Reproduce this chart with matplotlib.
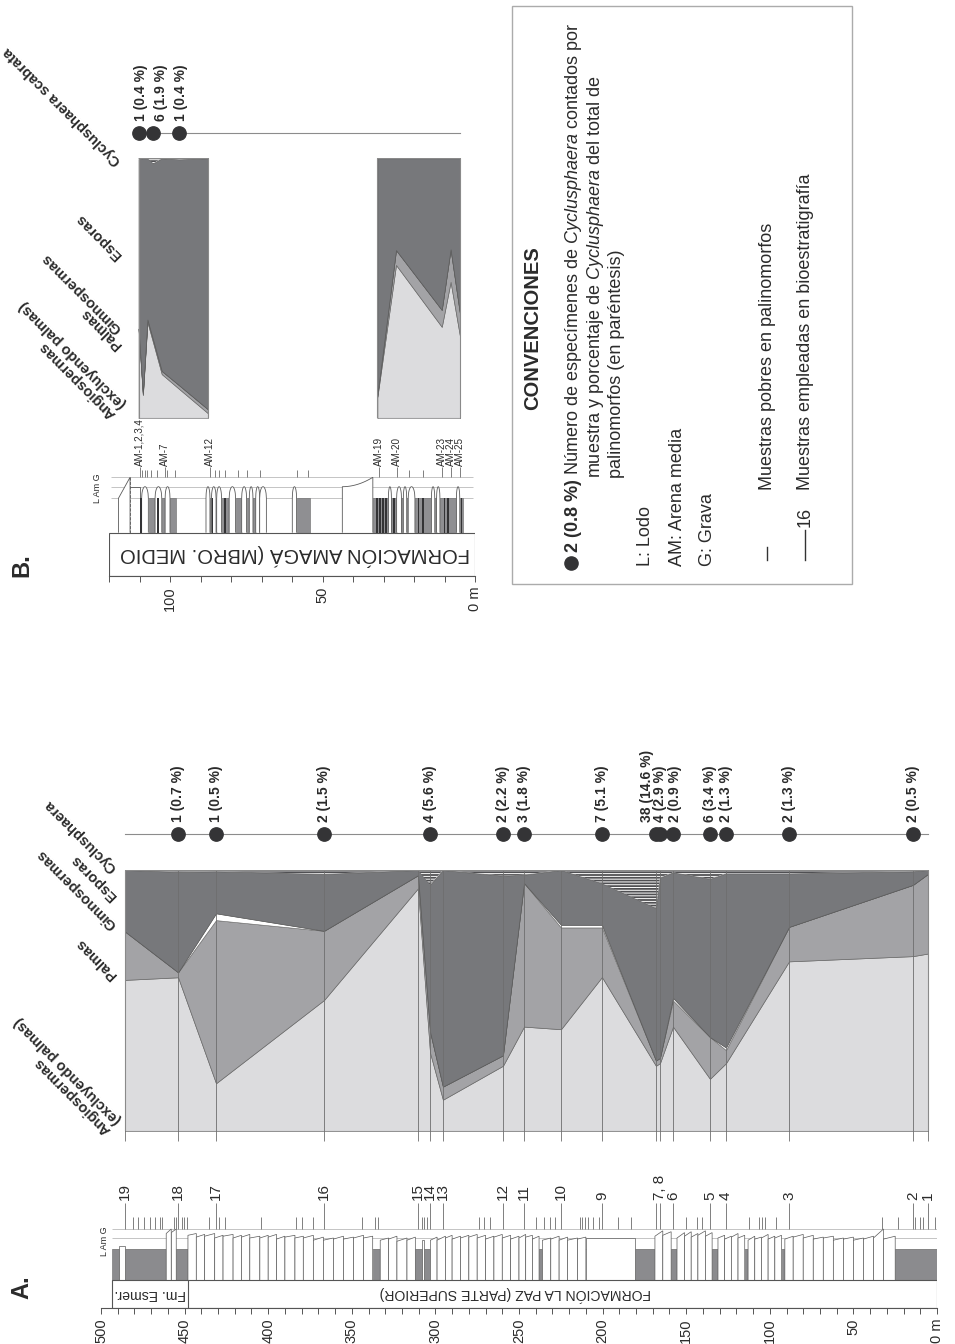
import numpy as np
import matplotlib
matplotlib.use("Agg")
import matplotlib.pyplot as plt
from matplotlib import font_manager
from matplotlib.patches import Rectangle, Polygon
from matplotlib.lines import Line2D

W, H = 955, 1344


def font_available(name):
    try:
        font_manager.findfont(font_manager.FontProperties(family=name),
                              fallback_to_default=False)
        return True
    except ValueError:
        return False


NARROW = 'Liberation Sans Narrow' if font_available('Liberation Sans Narrow') else 'Liberation Sans'
NARROW_SCALE = 1.0 if NARROW == 'Liberation Sans Narrow' else 0.84

plt.rcParams['font.family'] = ['Liberation Sans', 'DejaVu Sans']
plt.rcParams['mathtext.fontset'] = 'custom'
plt.rcParams['mathtext.rm'] = 'Liberation Sans'
plt.rcParams['mathtext.it'] = 'Liberation Sans:italic'
plt.rcParams['mathtext.bf'] = 'Liberation Sans:bold'
plt.rcParams['hatch.linewidth'] = 0.7

TXT = '#2b2b2b'

# ------------------------------------------------------------------
# A. Formación La Paz (parte superior) - palinología por muestra
# ------------------------------------------------------------------
sample_labels_A = ['19', '18', '17', '16', '15', '14', '13', '12', '11', '10', '9',
                   '', '7, 8', '6', '5', '4', '3', '2', '1']
sample_height_A = [485.6, 453.9, 431.2, 366.6, 310.4, 303.2, 295.5, 259.6, 247.0,
                   224.9, 200.4, 168.1, 165.7, 157.9, 135.8, 126.2, 88.5, 14.4, 5.4]
angio_A = [57.9, 58.9, 18.3, 50.2, 93.0, 30.0, 12.0, 25.0, 40.0, 39.0, 59.0,
           25.0, 26.0, 40.0, 20.0, 26.0, 65.0, 67.0, 68.0]
palmas_A = [18.5, 1.9, 62.5, 26.5, 5.0, 8.0, 5.0, 4.0, 55.0, 39.0, 19.0,
            2.0, 2.0, 10.0, 16.0, 5.0, 13.2, 27.3, 30.5]
gimno_A = [0, 0, 2.6, 0, 0, 0, 0, 0, 0, 1.0, 1.0, 0, 0, 1.0, 0, 1.0, 0, 0, 0]
esporas_A = [23.6, 38.5, 16.1, 21.8, 2.0, 56.4, 83.0, 68.8, 3.2, 21.0, 15.9,
             58.4, 69.1, 48.1, 60.6, 66.7, 20.5, 5.2, 1.5]
cyclus_A = [0, 0.7, 0.5, 1.5, 0, 5.6, 0, 2.2, 1.8, 0, 5.1,
            14.6, 2.9, 0.9, 3.4, 1.3, 1.3, 0.5, 0]
cyclus_count_A = [0, 1, 1, 2, 0, 4, 0, 2, 3, 0, 7, 38, 4, 2, 6, 2, 2, 2, 0]

poor_samples_A = [481.0, 477.8, 474.5, 470.6, 468.0, 464.8, 463.8, 456.6, 455.0,
                  451.7, 450.1, 448.4, 435.4, 429.5, 425.6, 404.4, 383.2, 380.0,
                  373.5, 344.1, 336.0, 334.4, 308.3, 306.6, 305.0, 274.1, 270.8,
                  267.6, 239.8, 235.0, 231.7, 228.5, 213.8, 212.2, 210.5, 208.9,
                  205.6, 202.4, 191.0, 182.8, 150.2, 143.7, 140.4, 112.7, 106.2,
                  104.6, 102.9, 96.5, 32.9, 23.1, 13.3, 10.0, 8.4, 1.0]

# lodolitas (base, techo) en m
mud_A = [(489, 493.5), (461, 485.5), (448, 455), (333, 337.5), (308, 312),
         (303, 307), (236, 238), (168.7, 180.6), (155.5, 159), (131, 134.5),
         (113, 115), (91, 93), (0, 25)]
# areniscas (base, techo, grano en la base, grano en el techo); 0 = L, 1 = Am, 2 = G
sand_A = [
    (485.5, 489, 0.3, 0.3),
    (455, 458, 2.2, 1.6), (458, 461, 2.1, 1.5),
    (443, 448, 1.5, 1.3), (438, 443, 1.4, 1.1), (432, 438, 1.5, 1.2), (427, 432, 1.3, 1.0),
    (421, 427, 1.4, 1.2), (416, 421, 1.3, 1.0), (411, 416, 1.4, 1.1), (405, 411, 1.2, 1.0),
    (400, 405, 1.3, 1.0), (395, 400, 1.4, 1.1), (390, 395, 1.2, 0.9), (384, 390, 1.3, 1.1),
    (379, 384, 1.2, 1.0), (373, 379, 1.3, 1.0), (367, 373, 1.1, 0.8), (361, 367, 1.0, 0.8),
    (355, 361, 1.2, 0.9), (349, 355, 1.1, 0.9), (343, 349, 1.3, 1.0), (337.5, 343, 1.2, 1.0),
    (328, 333, 1.0, 0.8), (323, 328, 1.2, 0.9), (317, 323, 1.0, 0.7), (312, 317, 1.1, 0.8),
    (307, 308, 0.8, 0.8),
    (299, 303, 1.1, 0.8), (294, 299, 1.2, 0.8), (290, 294, 1.3, 1.0), (285, 290, 1.2, 0.9),
    (280, 285, 1.3, 1.0), (275, 280, 1.4, 1.1), (270, 275, 1.3, 1.0), (265, 270, 1.2, 0.9),
    (260, 265, 1.4, 1.1), (255, 260, 1.3, 1.0), (250, 255, 1.2, 0.9), (246, 250, 1.4, 1.0),
    (242, 246, 1.3, 1.1), (238, 242, 1.2, 0.9),
    (231, 236, 1.0, 0.8), (226, 231, 1.2, 0.9), (221, 226, 1.1, 0.8), (215, 221, 1.0, 0.8),
    (210, 215, 1.1, 0.9), (180.6, 210, 1.0, 1.0),
    (164, 168.7, 1.8, 1.2), (159, 164, 1.7, 1.3),
    (151, 155.5, 1.6, 1.0), (147, 151, 1.7, 1.2), (143, 147, 1.5, 1.1),
    (138.5, 143, 1.8, 1.3), (134.5, 138.5, 1.6, 1.2),
    (127, 131, 1.3, 1.0), (123, 127, 1.2, 0.9), (119, 123, 1.5, 1.1), (115, 119, 1.3, 1.0),
    (109, 113, 1.2, 0.8), (105, 109, 1.1, 0.9), (101, 105, 1.4, 1.0), (97, 101, 1.2, 0.9),
    (93, 97, 1.3, 1.0),
    (86, 91, 1.2, 0.9), (80, 86, 1.4, 1.1), (74, 80, 1.3, 1.0), (68, 74, 1.1, 0.9),
    (62, 68, 1.2, 1.0), (56, 62, 1.0, 0.8), (50, 56, 1.1, 0.9), (44, 50, 1.0, 0.8),
    (38, 44, 1.2, 0.9), (32, 38, 2.0, 1.0), (25, 32, 1.2, 0.9),
]
depth_ticks_A = [0, 50, 100, 150, 200, 250, 300, 350, 400, 450, 500]
depth_labels_A = ['0 m', '50', '100', '150', '200', '250', '300', '350', '400', '450', '500']

# ------------------------------------------------------------------
# B. Formación Amagá (miembro medio)
# ------------------------------------------------------------------
height_B1 = [110.3, 108.9, 107.4, 105.5, 102.7, 97.0, 87.6]
angio_B1 = [34.0, 9.0, 37.0, 29.0, 17.0, 11.3, 2.0]
palmas_B1 = [0.5, 0.5, 1.0, 1.0, 1.2, 1.4, 1.5]
esporas_B1 = [65.1, 90.5, 62.0, 68.1, 81.8, 86.9, 96.5]
cyclus_B1 = [0.4, 0, 0, 1.9, 0, 0.4, 0]
cyclus_count_B1 = [1, 0, 0, 6, 0, 1, 0]

height_B2 = [32.0, 25.9, 10.9, 8.0, 4.9]
angio_B2 = [8.3, 59.0, 35.2, 52.5, 31.4]
palmas_B2 = [0.7, 5.7, 6.5, 12.5, 8.6]
esporas_B2 = [91.0, 35.3, 58.3, 35.0, 60.0]
cyclus_B2 = [0, 0, 0, 0, 0]

sample_labels_B = ['AM-1,2,3,4', 'AM-7', 'AM-12', 'AM-19', 'AM-20', 'AM-23', 'AM-24', 'AM-25']
sample_height_B = [110.0, 101.6, 86.9, 31.4, 25.7, 10.9, 8.0, 4.9]
poor_samples_B = [109.1, 108.2, 107.4, 106.2, 104.4, 100.9, 98.4, 85.3, 83.9, 82.0,
                  77.6, 74.9, 70.6, 58.5, 54.6, 21.5, 16.9]

mud_B = [(98.0, 100.0), (101.6, 102.7), (104.9, 106.9), (86.4, 86.9), (84.7, 84.9),
         (80.6, 83.1), (76.5, 78.5), (74.0, 74.9), (71.9, 72.8), (54.1, 58.5),
         (28.4, 33.5), (25.7, 27.4), (23.5, 24.1), (21.9, 22.4), (14.3, 19.7),
         (12.6, 13.2), (6.1, 11.5), (3.8, 5.0)]
coal_B = [109.55, 104.0, 86.0, 82.0, 32.2, 31.1, 30.2, 29.2, 26.5, 18.6, 17.0,
          10.0, 8.9, 4.4]
bump_B = [(107.1, 109.3), (102.7, 104.9), (100.0, 101.6), (86.9, 88.2), (84.9, 86.4),
          (83.1, 84.7), (78.5, 80.6), (74.9, 76.5), (72.8, 74.0), (70.6, 71.9),
          (68.4, 70.6), (58.5, 59.9), (27.4, 28.4), (24.1, 25.7), (22.4, 23.5),
          (19.7, 21.9), (13.2, 14.3), (11.5, 12.6), (5.0, 6.1)]
depth_ticks_B = [0, 10, 20, 30, 40, 50, 60, 70, 80, 90, 100, 110, 120]
depth_labels_B = ['0 m', '', '', '', '', '50', '', '', '', '', '100', '', '']

# ------------------------------------------------------------------
fig = plt.figure(figsize=(W / 100, H / 100), dpi=100)
fig.patch.set_facecolor('white')


def px_box(x0, y0, x1, y1):
    return [x0 / W, 1 - y1 / H, (x1 - x0) / W, (y1 - y0) / H]


def fx(x):
    return x / W


def fy(y):
    return 1 - y / H


FILL_STYLES = [
    dict(facecolor='#dcdcde', edgecolor='#6c6c6c', linewidth=0.5),
    dict(facecolor='#a3a3a6', edgecolor='#6c6c6c', linewidth=0.5),
    dict(facecolor='white', edgecolor='#6c6c6c', linewidth=0.4),
    dict(facecolor='#77787b', edgecolor='#5c5c5c', linewidth=0.5),
    dict(facecolor='#505053', edgecolor='white', linewidth=0, hatch='------'),
]


def stack_panel(ax, h, layers, styles):
    h = np.asarray(h, float)
    lower = np.zeros_like(h)
    for vals, st in zip(layers, styles):
        upper = lower + np.asarray(vals, float)
        ax.fill_between(h, lower, upper, zorder=1, **st)
        lower = upper
    ax.plot([h[0], h[0], h[-1], h[-1], h[0]], [0, 100, 100, 0, 0],
            color='#8a8a8a', lw=0.8, zorder=3)


def dot_row(ax, h, counts, pct, yrow, nudges, fs=10):
    h = np.asarray(h, float)
    ax.plot([h.max(), h.min()], [yrow, yrow], color='#8c8c8c', lw=0.8,
            clip_on=False, zorder=4)
    for i, (hi, n, p) in enumerate(zip(h, counts, pct)):
        if n <= 0:
            continue
        ax.plot([hi], [yrow], 'o', ms=9.6, color='#343436', clip_on=False, zorder=5)
        ax.annotate(f'{n} ({p:.1f} %)', xy=(hi, yrow),
                    xytext=(nudges.get(i, 0) * 0.72, 12 * 0.72),
                    textcoords='offset points', rotation=90, rotation_mode='anchor',
                    ha='left', va='center', fontsize=fs, fontweight='bold',
                    color=TXT, annotation_clip=False)


def headers(x, ys, texts):
    for y, t in zip(ys, texts):
        fig.text(fx(x), fy(y), t, rotation=135, rotation_mode='anchor',
                 ha='left', va='center', fontsize=10.5, fontweight='bold',
                 color=TXT, linespacing=1.0)


def grain_y(g, lv):
    return float(np.interp(g, [0, 1, 2], [lv['L'], lv['Am'], lv['G']]))


def column_axes(rect, xlim, ylim, ticks, labels):
    ax = fig.add_axes(px_box(*rect))
    ax.set_xlim(*xlim)
    ax.set_ylim(*ylim)
    ax.patch.set_alpha(0)
    for s in ('top', 'left', 'right'):
        ax.spines[s].set_visible(False)
    ax.spines['bottom'].set_color('#555555')
    ax.spines['bottom'].set_linewidth(0.8)
    ax.set_yticks([])
    ax.set_xticks(ticks)
    ax.set_xticklabels(labels, rotation=90, fontsize=10.5, color=TXT)
    ax.tick_params(axis='x', which='both', length=4.5, width=0.7, color='#555555', pad=3)
    return ax


# ---------------- A: columna ----------------
lvA = dict(base=1280, L=1249, Am=1238, G=1229)
axA = column_axes((101, 1140, 937, 1308), (500, 0), (1308, 1140), depth_ticks_A, depth_labels_A)
axA.set_xticks(np.arange(0, 501, 10), minor=True)

axA.hlines([lvA['G'], lvA['Am'], lvA['L']], 0, 493.5, color='#c4c4c4', lw=0.7, zorder=1)
for b, t in mud_A:
    axA.add_patch(Rectangle((b, lvA['L']), t - b, lvA['base'] - lvA['L'],
                            facecolor='#8b8b8e', edgecolor='#6a6a6a', lw=0.4, zorder=2))
for b, t, gb, gt in sand_A:
    pts = [(b, lvA['base']), (b, grain_y(gb, lvA)), (t, grain_y(gt, lvA)), (t, lvA['base'])]
    axA.add_patch(Polygon(pts, closed=False, facecolor='white', edgecolor='#5a5a5a',
                          lw=0.5, zorder=2))
axA.add_patch(Rectangle((0, lvA['base']), 493.5, 1308 - lvA['base'], fill=False,
                        edgecolor='#555555', lw=0.8, zorder=3))
axA.vlines([448], lvA['base'], 1308, color='#555555', lw=0.8, zorder=3)
axA.text(470.5, 1294, 'Fm. Esmer.', rotation=180, ha='center', va='center',
         fontsize=12 * NARROW_SCALE, family=NARROW, color=TXT)
axA.text(252, 1294, 'FORMACIÓN LA PAZ (PARTE SUPERIOR)', rotation=180, ha='center',
         va='center', fontsize=12 * NARROW_SCALE, family=NARROW, color=TXT)

axA.vlines(poor_samples_A, 1217, lvA['G'], color='#6a6a6a', lw=0.6)
axA.vlines(sample_height_A, 1203, lvA['G'], color='#6a6a6a', lw=0.6)
for h, lab in zip(sample_height_A, sample_labels_A):
    if lab:
        axA.text(h, 1200, lab, rotation=90, rotation_mode='anchor', ha='left',
                 va='center', fontsize=11, color=TXT)
fig.text(fx(104), fy(1241), 'L Am G', rotation=90, ha='center', va='center',
         fontsize=6.5, color=TXT)

# ---------------- A: diagrama polínico ----------------
axAp = fig.add_axes(px_box(101, 870, 937, 1131))
axAp.set_xlim(500, 0)
axAp.set_ylim(0, 100)
axAp.axis('off')
stack_panel(axAp, sample_height_A, [angio_A, palmas_A, gimno_A, esporas_A, cyclus_A], FILL_STYLES)
axAp.vlines(sample_height_A, -3.8, 100, color='#6e6e6e', lw=0.6, zorder=2, clip_on=False)
dot_row(axAp, sample_height_A, cyclus_count_A, cyclus_A, 113.8, {11: -9, 12: 0, 13: 2})
headers(114, [1127, 977, 927, 898, 870],
        ['Angiospermas\n(excluyendo palmas)', 'Palmas', 'Gimnospermas', 'Esporas',
         'Cyclusphaera'])

# ---------------- B: columna ----------------
lvB = dict(base=532.7, L=498.3, Am=486.7, G=477.3)
axB = column_axes((109, 440, 475, 576), (120, 0), (576, 440), depth_ticks_B, depth_labels_B)
axB.hlines([lvB['G'], lvB['Am'], lvB['L']], 0.8, 119.4, color='#c4c4c4', lw=0.7, zorder=1)
for b, t in mud_B:
    axB.add_patch(Rectangle((b, lvB['L']), t - b, lvB['base'] - lvB['L'],
                            facecolor='#8f8f92', edgecolor='#6a6a6a', lw=0.4, zorder=2))
for c in coal_B:
    axB.add_patch(Rectangle((c - 0.25, lvB['L']), 0.5, lvB['base'] - lvB['L'],
                            facecolor='#333335', edgecolor='none', zorder=3))
for b, t in bump_B:
    xs = np.linspace(b, t, 24)
    u = (xs - (b + t) / 2) / ((t - b) / 2)
    ys = lvB['L'] - (lvB['L'] - lvB['Am']) * np.sqrt(np.clip(1 - u ** 2, 0, 1))
    pts = [(b, lvB['base'])] + list(zip(xs, ys)) + [(t, lvB['base'])]
    axB.add_patch(Polygon(pts, closed=False, facecolor='white', edgecolor='#5a5a5a',
                          lw=0.6, zorder=2))
# capas de arena de perfil especial
axB.add_patch(Polygon([(116.9, lvB['base']), (116.9, lvB['L']), (113.1, lvB['G']),
                       (113.1, lvB['base'])], closed=False, facecolor='white',
                      edgecolor='#5a5a5a', lw=0.6, zorder=2))
axB.vlines([113.1], lvB['G'], lvB['base'], color='#5a5a5a', lw=0.6, linestyles='--', zorder=3)
axB.add_patch(Polygon([(113.1, lvB['Am']), (109.8, lvB['Am']), (109.8, lvB['base'])],
                      closed=False, fill=False, edgecolor='#5a5a5a', lw=0.6, zorder=2))
xs = np.linspace(43.5, 33.5, 20)
ys = lvB['Am'] - (lvB['Am'] - lvB['G']) * ((43.5 - xs) / 10.0) ** 2
axB.add_patch(Polygon([(43.5, lvB['base'])] + list(zip(xs, ys)) + [(33.5, lvB['base'])],
                      closed=False, facecolor='white', edgecolor='#5a5a5a', lw=0.6, zorder=2))
axB.add_patch(Rectangle((0, lvB['base']), 120, 576 - lvB['base'], fill=False,
                        edgecolor='#555555', lw=0.8, zorder=3))
axB.text(59, 554.5, 'FORMACIÓN AMAGÁ (MBRO. MEDIO', rotation=180, ha='center',
         va='center', fontsize=14.5, color=TXT)
axB.vlines(poor_samples_B, 470, lvB['G'], color='#6a6a6a', lw=0.6)
axB.vlines(sample_height_B, 467, lvB['G'], color='#6a6a6a', lw=0.6)
for h, lab in zip(sample_height_B, sample_labels_B):
    axB.text(h, 466, lab, rotation=90, rotation_mode='anchor', ha='left', va='center',
             fontsize=8.5 * NARROW_SCALE, family=NARROW, color=TXT)
fig.text(fx(97), fy(488), 'L Am G', rotation=90, ha='center', va='center',
         fontsize=6.5, color=TXT)

# ---------------- B: diagrama polínico ----------------
axBp = fig.add_axes(px_box(109, 158.3, 475, 418.3))
axBp.set_xlim(120, 0)
axBp.set_ylim(0, 100)
axBp.axis('off')
stack_panel(axBp, height_B1, [angio_B1, palmas_B1, [0] * 7, esporas_B1, cyclus_B1], FILL_STYLES)
stack_panel(axBp, height_B2, [angio_B2, palmas_B2, [0] * 5, esporas_B2, cyclus_B2], FILL_STYLES)
dot_row(axBp, [height_B1[0], height_B1[3], height_B1[5], height_B2[-1]],
        [cyclus_count_B1[0], cyclus_count_B1[3], cyclus_count_B1[5], 0],
        [cyclus_B1[0], cyclus_B1[3], cyclus_B1[5], 0], 109.6, {0: 2, 1: 8, 2: 2})
headers(119, [411, 347, 331, 257, 163],
        ['Angiospermas\n(excluyendo palmas)', 'Palmas', 'Gimnospermas', 'Esporas',
         'Cyclusphaera scabrata'])

# ---------------- rótulos de sección ----------------
fig.text(fx(22), fy(1287), 'A.', rotation=90, ha='center', va='center', fontsize=17,
         fontweight='bold', color=TXT)
fig.text(fx(22), fy(565), 'B.', rotation=90, ha='center', va='center', fontsize=17,
         fontweight='bold', color=TXT)

# ---------------- convenciones ----------------
fig.add_artist(Rectangle((fx(512), fy(584)), (852 - 512) / W, (584 - 6) / H,
                         transform=fig.transFigure, fill=False, edgecolor='#ababab', lw=1.0))
fig.text(fx(533), fy(328), 'CONVENCIONES', rotation=90, ha='center', va='center',
         fontsize=14.5, fontweight='bold', color=TXT)
fig.add_artist(Line2D([fx(571)], [fy(563)], marker='o', ms=9.5, color='#343436',
                      transform=fig.transFigure))
legend_lines = [
    (573, 553, r'$\mathbf{2\ (0.8\ \%)}$ Número de especímenes de $\mathit{Cyclusphaera}$ contados por'),
    (595, 478, r'muestra y porcentaje de $\mathit{Cyclusphaera}$ del total de'),
    (616, 478, 'palinomorfos (en paréntesis)'),
    (645, 566, 'L: Lodo'),
    (677, 566, 'AM: Arena media'),
    (708, 566, 'G: Grava'),
    (767, 490, 'Muestras pobres en palinomorfos'),
    (805, 527, '16'),
    (805, 490, 'Muestras empleadas en bioestratigrafía'),
]
for x, y, t in legend_lines:
    fig.text(fx(x), fy(y), t, rotation=90, rotation_mode='anchor', ha='left',
             va='center', fontsize=13, color=TXT)
fig.add_artist(Line2D([fx(767), fx(767)], [fy(560), fy(547)], color='#333333', lw=1.0,
                      transform=fig.transFigure))
fig.add_artist(Line2D([fx(805), fx(805)], [fy(560), fy(530)], color='#333333', lw=1.0,
                      transform=fig.transFigure))

fig.savefig('out.png', dpi=100, facecolor='white')
